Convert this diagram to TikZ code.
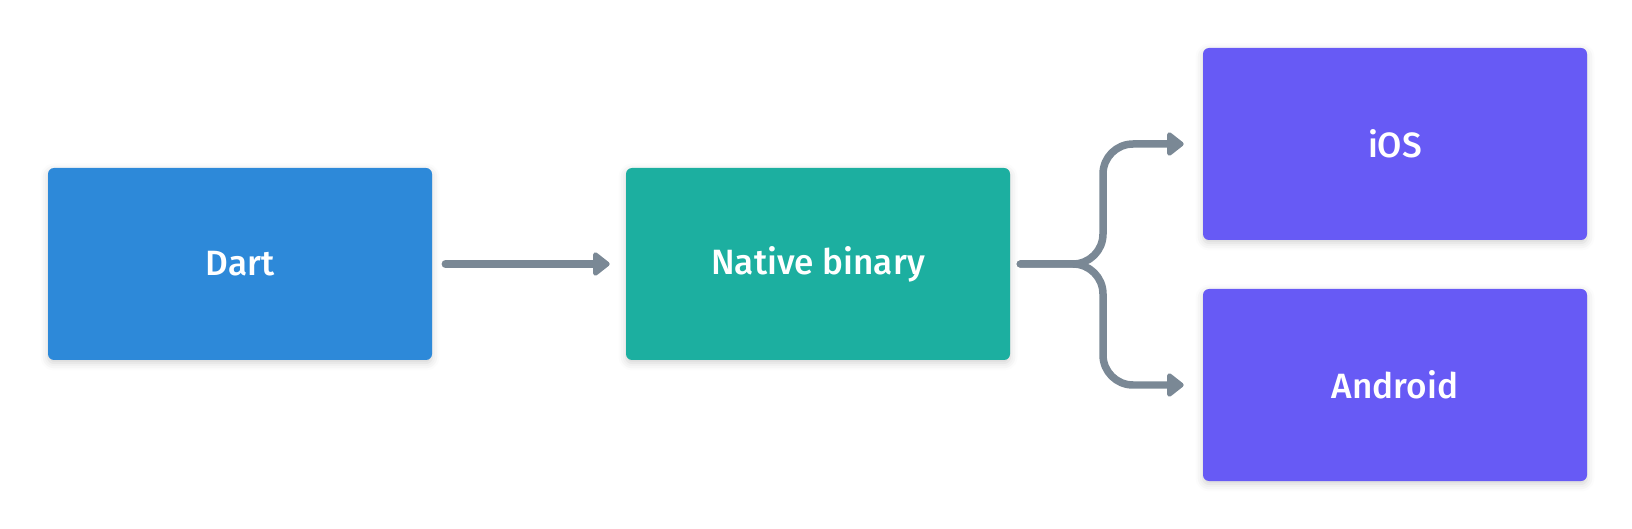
\documentclass[tikz,border=0pt]{standalone}
\usepackage{fontspec}
\setmainfont{Fira Sans}
\newfontfamily\labelfont{Fira Sans Medium}
\usetikzlibrary{arrows.meta,shadows.blur}
\definecolor{dartblue}{HTML}{2D89D9}
\definecolor{natteal}{HTML}{1CAFA0}
\definecolor{osviolet}{HTML}{675AF5}
\definecolor{flowgray}{HTML}{7A8895}
\begin{document}
\begin{tikzpicture}[
    box/.style={rectangle, rounded corners=0.12cm, minimum width=7.68cm, minimum height=3.84cm,
        text=white, font=\labelfont\fontsize{20}{24}\selectfont,
        blur shadow={shadow xshift=0cm, shadow yshift=-0.06cm, shadow blur radius=0.15cm, shadow opacity=18}},
    flow/.style={draw=flowgray, line width=0.15cm, line cap=round, rounded corners=0.6cm,
        -{Triangle[length=0.36cm,width=0.54cm,round]}}
]
\useasboundingbox (0,0) rectangle (32.64,10.56);

\node[box, fill=dartblue] (dart) at (4.8,5.28) {Dart};
\node[box, fill=natteal] (native) at (16.36,5.28) {Native binary};
\node[box, fill=osviolet] (ios) at (27.9,7.68) {iOS};
\node[box, fill=osviolet] (android) at (27.9,2.86) {Android};

\coordinate (fork) at (22.06,5.28);

\draw[flow] ([xshift=0.26cm]dart.east) -- ([xshift=-0.32cm]native.west);
\draw[flow] ([xshift=0.2cm]native.east) -- (fork) -- (fork |- ios.west) -- ([xshift=-0.38cm]ios.west);
\draw[flow] ([xshift=0.2cm]native.east) -- (fork) -- (fork |- android.west) -- ([xshift=-0.38cm]android.west);
\end{tikzpicture}
\end{document}
